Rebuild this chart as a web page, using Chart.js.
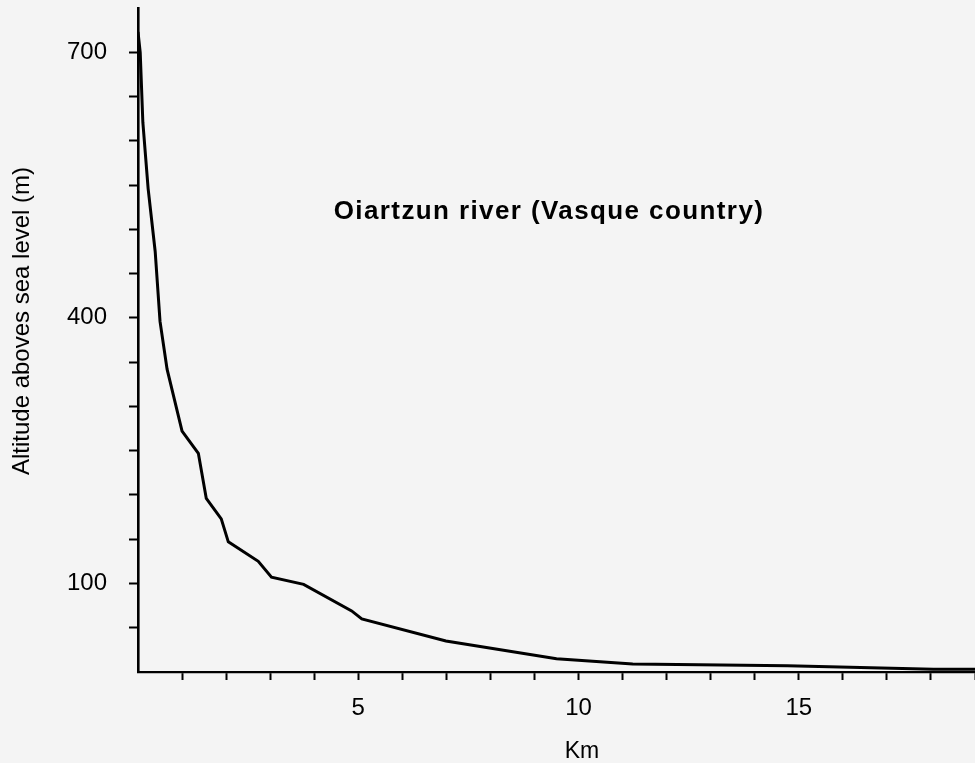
<!DOCTYPE html>
<html>
<head>
<meta charset="utf-8">
<script src="https://cdn.jsdelivr.net/npm/chart.js@4"></script>
<style>
  html, body { margin: 0; padding: 0; background: #f4f4f4; }
  #c { display: block; }
</style>
</head>
<body>
<canvas id="c" width="975" height="763" style="width:975px;height:763px"></canvas>
<script>
// Distance along the river (km) and altitude (m)
const kmValues       = [0, 0.05, 0.11, 0.23, 0.39, 0.50, 0.66, 1.00, 1.37, 1.55, 1.89, 2.05, 2.73, 3.03, 3.76, 4.85, 5.08, 6.99, 9.50, 11.23, 14.74, 18.06, 19.00];
const altitudeValues = [723, 700, 621, 546, 475, 396, 342, 272, 247, 196, 173, 147, 125, 107, 99, 69, 60, 35, 15, 9, 7, 3, 3];

const xTickLabels = [5, 10, 15];
const yTickLabels = [700, 400, 100];

const chartTitle = 'Oiartzun river (Vasque country)';
const xAxisTitle = 'Km';
const yAxisTitle = 'Altitude aboves sea level (m)';

const FONT = '"Liberation Sans", Arial, sans-serif';

const points = kmValues.map((k, i) => ({ x: k, y: altitudeValues[i] }));

const textPlugin = {
  id: 'texts',
  afterDraw(chart) {
    const ctx = chart.ctx;
    ctx.save();
    ctx.fillStyle = '#000';
    // Main title inside the plot
    ctx.font = 'bold 26px ' + FONT;
    ctx.letterSpacing = '1.4px';
    ctx.textAlign = 'center';
    ctx.textBaseline = 'alphabetic';
    ctx.fillText(chartTitle, 549, 219);
    ctx.letterSpacing = '0px';
    // x axis title
    ctx.font = '23px ' + FONT;
    ctx.fillText(xAxisTitle, 582, 758);
    // y axis title
    ctx.translate(29, 321);
    ctx.rotate(-Math.PI / 2);
    ctx.font = '24px ' + FONT;
    ctx.fillText(yAxisTitle, 0, 0);
    ctx.restore();
  }
};

new Chart(document.getElementById('c'), {
  type: 'line',
  data: {
    datasets: [{
      data: points,
      borderColor: '#000',
      borderWidth: 3,
      pointRadius: 0,
      tension: 0,
      fill: false
    }]
  },
  options: {
    responsive: false,
    animation: false,
    devicePixelRatio: 1,
    layout: { padding: { top: 8, right: 0, left: 0, bottom: 0 } },
    plugins: { legend: { display: false }, tooltip: { enabled: false }, title: { display: false } },
    scales: {
      x: {
        type: 'linear',
        min: 0,
        max: 19,
        afterFit(scale) {
          scale.height = 91;
          scale.paddingLeft = 0; scale.paddingRight = 0;
          scale.paddingTop = 0; scale.paddingBottom = 0;
        },
        border: { display: true, color: '#000', width: 2.2 },
        grid: {
          display: true,
          drawOnChartArea: false,
          drawTicks: true,
          tickLength: 8,
          tickWidth: 2,
          tickColor: (c) => (c.tick && c.tick.value === 0) ? 'rgba(0,0,0,0)' : '#000'
        },
        ticks: {
          stepSize: 1,
          autoSkip: false,
          maxRotation: 0,
          padding: 14,
          color: '#000',
          font: { family: FONT, size: 24 },
          callback: (v) => xTickLabels.includes(v) ? String(v) : ''
        }
      },
      y: {
        type: 'linear',
        min: 0,
        max: 750,
        afterFit(scale) {
          scale.width = 138;
          scale.paddingLeft = 0; scale.paddingRight = 0;
          scale.paddingTop = 0; scale.paddingBottom = 0;
        },
        border: { display: true, color: '#000', width: 2.6 },
        grid: {
          display: true,
          drawOnChartArea: false,
          drawTicks: true,
          tickLength: 9,
          tickWidth: 2,
          tickColor: (c) => (c.tick && (c.tick.value === 0 || c.tick.value === 750)) ? 'rgba(0,0,0,0)' : '#000'
        },
        ticks: {
          stepSize: 50,
          autoSkip: false,
          padding: 22,
          color: '#000',
          font: { family: FONT, size: 24 },
          callback: (v) => yTickLabels.includes(v) ? String(v) : ''
        }
      }
    }
  },
  plugins: [textPlugin]
});
</script>
</body>
</html>
